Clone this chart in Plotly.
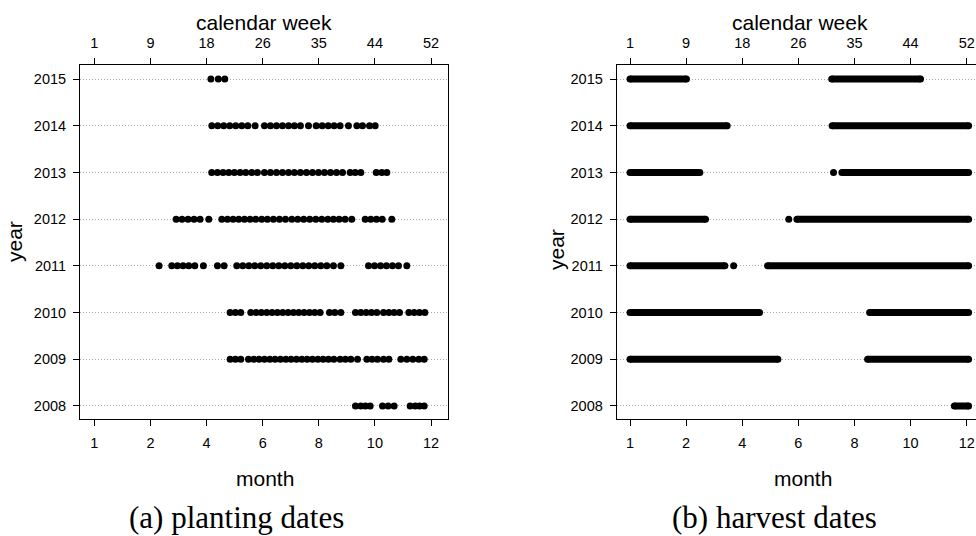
import plotly.graph_objects as go

W, H = 976, 536

# ---------------- data (day of year) ----------------
years = [2008, 2009, 2010, 2011, 2012, 2013, 2014, 2015]

planting_2015 = [127, 135, 142]
planting_2014 = [128, 134.4, 140.9, 147.4, 153.9, 160.4, 166.9, 174.8, 184.9, 191.4, 197.9,
                 204.4, 210.9, 217.3, 223.8, 232.5, 240.8, 247.3, 253.8, 260.2, 266.7, 275.7,
                 284.8, 290.9, 298.5, 304.6]
planting_2013 = [127.9, 134.1, 140.2, 146.3, 152.4, 158.6, 164.7, 171.2, 177.3, 184.9, 191.4,
                 197.9, 204.4, 210.9, 217.3, 223.8, 230.3, 236.8, 243.3, 249.8, 256.3, 262.8,
                 269.3, 277.5, 283.0, 289.1, 305.7, 311.8, 317.2]
planting_2012 = [89.4, 95.8, 102.3, 108.8, 115.3, 124.7, 138.8, 144.9, 151.0, 157.1, 163.3,
                 169.4, 175.5, 182.0, 188.1, 194.6, 201.1, 207.6, 214.5, 220.9, 227.4, 233.9,
                 240.4, 246.9, 253.4, 259.5, 265.6, 272.1, 279.3, 293.8, 299.9, 306.0, 312.2,
                 322.6]
planting_2011 = [71.0, 84.7, 90.8, 96.9, 103.1, 109.6, 118.9, 134.1, 141.3, 155.0, 161.5,
                 168.0, 174.4, 180.9, 187.4, 193.9, 200.4, 206.9, 213.4, 219.9, 226.4, 232.8,
                 239.3, 245.8, 252.3, 259.5, 267.5, 297.4, 303.9, 310.4, 316.8, 323.3, 329.8,
                 338.8]
planting_2010 = [147.8, 153.5, 159.3, 170.1, 175.9, 181.6, 187.4, 193.2, 199.0, 204.7, 210.5,
                 216.3, 222.0, 227.8, 233.6, 239.3, 245.1, 255.2, 261.0, 267.5, 283.3, 289.1,
                 294.8, 300.6, 306.4, 313.6, 319.4, 325.1, 330.9, 341.0, 346.8, 352.5, 358.3]
planting_2009 = [147.8, 153.5, 159.3, 167.6, 173.4, 179.1, 184.9, 190.7, 196.4, 202.2, 208.0,
                 213.7, 219.5, 225.3, 231.0, 236.8, 242.6, 248.3, 254.1, 259.9, 266.7, 272.5,
                 278.3, 285.5, 295.6, 301.3, 307.1, 313.6, 319.4, 332.3, 338.8, 345.3, 351.8,
                 357.6]
planting_2008 = [283.3, 289.1, 294.1, 299.2, 312.5, 318.6, 325.1, 342.4, 347.8, 352.5, 357.6]

planting = {2015: planting_2015, 2014: planting_2014, 2013: planting_2013, 2012: planting_2012,
            2011: planting_2011, 2010: planting_2010, 2009: planting_2009, 2008: planting_2008}

# harvest periods (continuous daily harvest windows) and isolated harvest days
harvest_year  = [2015, 2015, 2014, 2014, 2013, 2013, 2012, 2012, 2011, 2011, 2010, 2010, 2009, 2009, 2008]
harvest_start = [1,    219,  1,    219.5, 1,   230,  1,    181.4, 1,   149.7, 1,   260,  1,    257.8, 351.6]
harvest_end   = [62,   315,  106,  367,  76.5, 367,  82.6, 367,  103.5, 367,  141,  367,  160.8, 367,  367]
single_year = [2013, 2012, 2011]
single_day  = [221, 172.6, 113]

tick_pos = [1, 61.67, 122.33, 183, 243.67, 304.33, 365]
month_labels = ["1", "2", "4", "6", "8", "10", "12"]
week_labels = ["1", "9", "18", "26", "35", "44", "52"]

# ---------------- figure ----------------
FONT = "Liberation Sans, Arial, sans-serif"
MS = 7
fig = go.Figure()

px_ = []
py_ = []
for y in years:
    for d in planting[y]:
        px_.append(d)
        py_.append(y)
fig.add_trace(go.Scatter(x=px_, y=py_, mode="markers", xaxis="x", yaxis="y",
                         marker=dict(size=MS, color="black"), showlegend=False,
                         hoverinfo="x+y"))

hx, hy = [], []
for y, s, e in zip(harvest_year, harvest_start, harvest_end):
    hx += [s, e, None]
    hy += [y, y, None]
fig.add_trace(go.Scatter(x=hx, y=hy, mode="lines+markers", xaxis="x2", yaxis="y2",
                         line=dict(color="black", width=MS),
                         marker=dict(size=MS, color="black"), showlegend=False))
fig.add_trace(go.Scatter(x=single_day, y=single_year, mode="markers", xaxis="x2", yaxis="y2",
                         marker=dict(size=MS, color="black"), showlegend=False))
# invisible traces to activate the top (week) axes
fig.add_trace(go.Scatter(x=[tick_pos[0]], y=[years[0]], xaxis="x3", yaxis="y", mode="markers",
                         marker=dict(opacity=0), showlegend=False, hoverinfo="skip"))
fig.add_trace(go.Scatter(x=[tick_pos[0]], y=[years[0]], xaxis="x4", yaxis="y2", mode="markers",
                         marker=dict(opacity=0), showlegend=False, hoverinfo="skip"))

L_dom = [80 / W, 447.7 / W]
R_dom = [616.7 / W, 1.0]
Y_dom = [1 - 419.3 / H, 1 - 65 / H]
L_rng = [-14.5, 383.0]
R_rng = [-13.4, 375.0]
Y_rng = [2007.715, 2015.3]

tickfont = dict(family=FONT, size=14.5, color="black")
xcommon = dict(tickmode="array", tickvals=tick_pos, ticks="outside", ticklen=6, tickcolor="black",
               showline=True, linecolor="black", linewidth=1, showgrid=False, zeroline=False,
               tickfont=tickfont, fixedrange=True)
ycommon = dict(tickmode="array", tickvals=years, ticktext=[str(y) for y in years], ticks="outside",
               ticklen=6, tickcolor="black", showline=True, linecolor="black", linewidth=1,
               showgrid=True, gridcolor="#a8a8a8", griddash="1px,2px", gridwidth=1, zeroline=False,
               tickfont=tickfont, range=Y_rng, domain=Y_dom, ticklabelstandoff=4)

fig.update_layout(
    width=W, height=H, autosize=False,
    margin=dict(l=0, r=0, t=0, b=0),
    paper_bgcolor="white", plot_bgcolor="white",
    xaxis=dict(domain=L_dom, range=L_rng, anchor="y", ticktext=month_labels, mirror=True,
               ticklabelstandoff=4, **xcommon),
    xaxis2=dict(domain=R_dom, range=R_rng, anchor="y2", ticktext=month_labels, mirror=True,
                ticklabelstandoff=4, **xcommon),
    xaxis3=dict(domain=L_dom, range=L_rng, anchor="y", overlaying="x", side="top",
                ticktext=week_labels, ticklabelstandoff=4, **xcommon),
    xaxis4=dict(domain=R_dom, range=R_rng, anchor="y2", overlaying="x2", side="top",
                ticktext=week_labels, ticklabelstandoff=4, **xcommon),
    yaxis=dict(anchor="x", mirror=True, **ycommon),
    yaxis2=dict(anchor="x2", mirror=False, **ycommon),
)

titlefont = dict(family=FONT, size=21, color="black")
capfont = dict(family="Liberation Serif, Times New Roman, serif", size=31, color="black")
ann = []
for cx, mx, yx, yy, capx, cap in [(264, 265, 14, 242, 236, "(a) planting dates"),
                                  (799.5, 803, 556, 250, 774, "(b) harvest dates")]:
    ann.append(dict(text="calendar week", x=cx / W, y=1 - 22.7 / H, font=titlefont))
    ann.append(dict(text="month", x=mx / W, y=1 - 478 / H, font=titlefont))
    ann.append(dict(text="year", x=yx / W, y=1 - yy / H, font=titlefont, textangle=-90))
    ann.append(dict(text=cap, x=capx / W, y=1 - 517 / H, font=capfont))
for a in ann:
    a.update(xref="paper", yref="paper", showarrow=False, xanchor="center", yanchor="middle")
fig.update_layout(annotations=ann)

fig.write_html("out.html")
